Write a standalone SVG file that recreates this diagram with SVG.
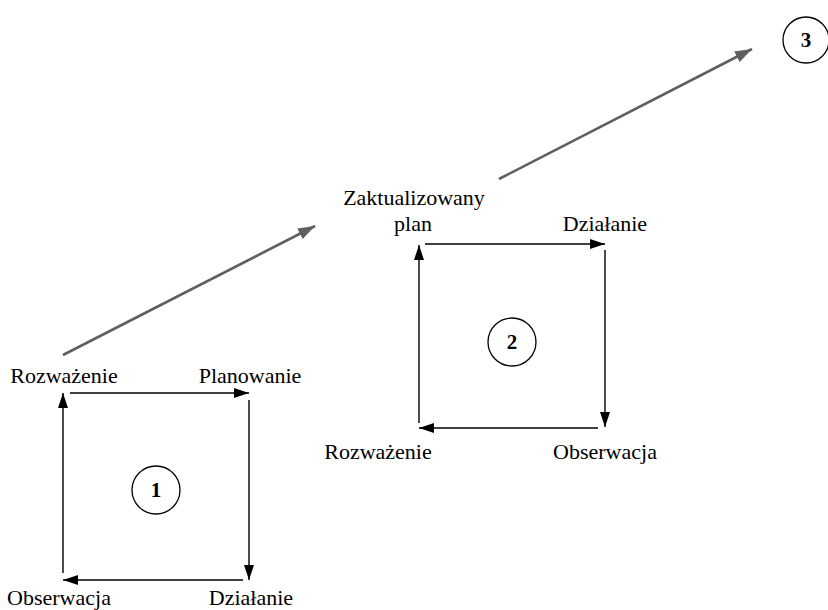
<svg xmlns="http://www.w3.org/2000/svg" width="828" height="610" viewBox="0 0 828 610">
<defs>
<style>
text{font-family:'Liberation Serif','Times New Roman','DejaVu Serif',serif}
.lbl{font-size:22px;fill:#000;text-anchor:middle}
.num{font-size:21px;font-weight:bold;fill:#000;text-anchor:middle}
.edge{stroke:#000;stroke-width:1.4;fill:none}
.gray{stroke:#5f5f5f;stroke-width:2.6;fill:none}
.circ{fill:#fff;stroke:#000;stroke-width:1.3}
</style>
<marker id="ah" markerUnits="userSpaceOnUse" markerWidth="16" markerHeight="10" refX="15" refY="5" orient="auto">
<path d="M0,0 L15,5 L0,10 Z" fill="#000"/>
</marker>
<marker id="gh" markerUnits="userSpaceOnUse" markerWidth="18" markerHeight="12" refX="17" refY="6" orient="auto">
<path d="M0,0 L17,6 L0,12 Z" fill="#5f5f5f"/>
</marker>
</defs>
<g id="connectors">
<line class="edge" x1="70" y1="393" x2="249" y2="393" marker-end="url(#ah)"/>
<line class="edge" x1="249" y1="400" x2="249" y2="580" marker-end="url(#ah)"/>
<line class="edge" x1="243" y1="580" x2="63" y2="580" marker-end="url(#ah)"/>
<line class="edge" x1="63" y1="573" x2="63" y2="393" marker-end="url(#ah)"/>
<line class="edge" x1="425" y1="244" x2="605" y2="244" marker-end="url(#ah)"/>
<line class="edge" x1="605" y1="250" x2="605" y2="427" marker-end="url(#ah)"/>
<line class="edge" x1="598" y1="428" x2="419" y2="428" marker-end="url(#ah)"/>
<line class="edge" x1="419" y1="423" x2="419" y2="245" marker-end="url(#ah)"/>
<line class="gray" x1="63" y1="355" x2="315" y2="226" marker-end="url(#gh)"/>
<line class="gray" x1="499" y1="179" x2="752" y2="49" marker-end="url(#gh)"/>
</g>
<g id="loop1-rozwazenie"><text class="lbl" x="64" y="383">Rozważenie</text></g>
<g id="loop1-planowanie"><text class="lbl" x="250" y="383">Planowanie</text></g>
<g id="loop1-dzialanie"><text class="lbl" x="251" y="605">Działanie</text></g>
<g id="loop1-obserwacja"><text class="lbl" x="59" y="605">Obserwacja</text></g>
<g id="circle1"><circle class="circ" cx="156" cy="490" r="24"/><text class="num" x="156" y="497">1</text></g>
<g id="loop2-plan"><text class="lbl" x="414" y="205">Zaktualizowany</text><text class="lbl" x="413" y="231">plan</text></g>
<g id="loop2-dzialanie"><text class="lbl" x="605" y="231">Działanie</text></g>
<g id="loop2-obserwacja"><text class="lbl" x="605" y="459">Obserwacja</text></g>
<g id="loop2-rozwazenie"><text class="lbl" x="378" y="459">Rozważenie</text></g>
<g id="circle2"><circle class="circ" cx="512" cy="342" r="24"/><text class="num" x="512" y="349">2</text></g>
<g id="circle3"><circle class="circ" cx="806" cy="40" r="23"/><text class="num" x="806" y="47">3</text></g>
</svg>
